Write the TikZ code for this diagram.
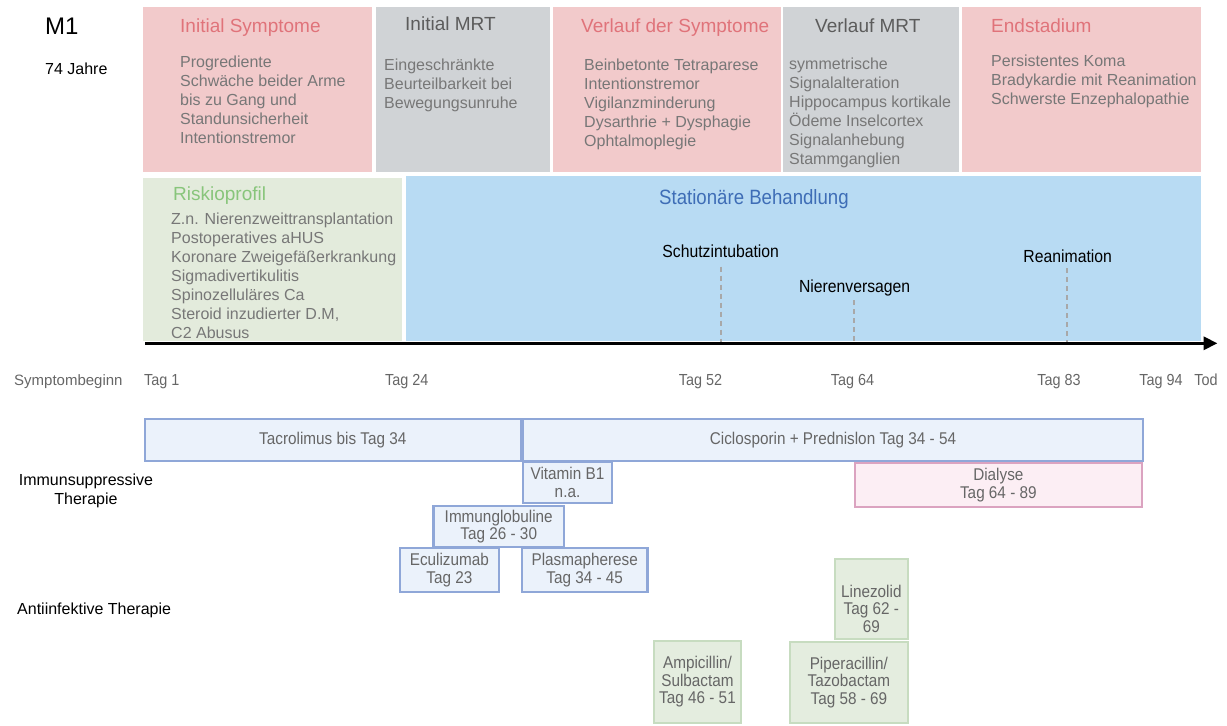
\documentclass[tikz,border=0pt]{standalone}
\usepackage{fontspec}
\setmainfont{Liberation Sans}
\newfontfamily\condfont{Liberation Sans}[FakeStretch=0.9]
\usetikzlibrary{arrows.meta}

\definecolor{pinkfill}{HTML}{F2CACB}
\definecolor{pinktitle}{HTML}{E0737A}
\definecolor{greyfill}{HTML}{D0D3D6}
\definecolor{greytitle}{HTML}{5C5C5C}
\definecolor{bodygrey}{HTML}{777777}
\definecolor{greenfill}{HTML}{E3EBDC}
\definecolor{greentitle}{HTML}{88C57B}
\definecolor{bluefill}{HTML}{B8DBF3}
\definecolor{bluetitle}{HTML}{3E6DB6}
\definecolor{medfill}{HTML}{EBF2FB}
\definecolor{meddraw}{HTML}{8FA7D8}
\definecolor{dialfill}{HTML}{FCEEF4}
\definecolor{dialdraw}{HTML}{DBA3C0}
\definecolor{abxfill}{HTML}{E4EDDF}
\definecolor{abxdraw}{HTML}{C7DCC0}
\definecolor{labelgrey}{HTML}{666666}
\definecolor{dashgrey}{HTML}{A8A8A8}

\begin{document}
\begin{tikzpicture}[x=1pt,y=-1pt,
  panel/.style={rectangle, anchor=north west, inner sep=0pt, outer sep=0pt, draw=none},
  ttl/.style={anchor=north west, inner sep=0pt, font=\fontsize{19}{23}\selectfont},
  bdy/.style={anchor=north west, inner sep=0pt, align=left, text=bodygrey,
    font=\fontsize{16}{19}\selectfont},
  medbox/.style={rectangle, anchor=north west, inner sep=0pt, outer sep=0pt,
    draw=meddraw, fill=medfill, line width=2.2pt, align=center, text=labelgrey,
    font=\condfont\fontsize{17}{17.5}\selectfont},
  dialbox/.style={medbox, draw=dialdraw, fill=dialfill},
  abxbox/.style={medbox, draw=abxdraw, fill=abxfill, line width=2pt},
  boxtext/.style={inner sep=0pt, align=center, text=labelgrey,
    font=\condfont\fontsize{17}{17.5}\selectfont},
  evlab/.style={anchor=base, inner sep=0pt, text=black,
    font=\condfont\fontsize{17.5}{20}\selectfont},
  taglab/.style={anchor=base, inner sep=0pt, text=labelgrey,
    font=\condfont\fontsize{16}{19}\selectfont},
  evdash/.style={draw=dashgrey, line width=2pt, dash pattern=on 5pt off 4pt},
  axisline/.style={line width=3.3pt, -{Triangle[length=14pt,width=13pt]}},
]
\useasboundingbox (0,0) rectangle (1227,726);

% header
\node[anchor=base west, inner sep=0pt, font=\fontsize{24}{28}\selectfont] (case) at (45,34.3) {M1};
\node[anchor=base west, inner sep=0pt, font=\fontsize{16}{19}\selectfont] (age) at (45,74) {74 Jahre};

% course panels
\node[panel, fill=pinkfill, minimum width=228.4pt, minimum height=165.6pt] (isym) at (143.3,6.7) {};
\node[panel, fill=greyfill, minimum width=174.7pt, minimum height=165.6pt] (imrt) at (375.5,6.7) {};
\node[panel, fill=pinkfill, minimum width=227.4pt, minimum height=165.6pt] (vsym) at (553.3,6.7) {};
\node[panel, fill=greyfill, minimum width=176pt, minimum height=165.6pt] (vmrt) at (783.3,6.7) {};
\node[panel, fill=pinkfill, minimum width=238.7pt, minimum height=165.6pt] (ends) at (962,6.7) {};
\node[panel, fill=greenfill, minimum width=259pt, minimum height=162.4pt] (risk) at (143.3,178.3) {};
\node[panel, fill=bluefill, minimum width=794.6pt, minimum height=164.7pt] (stat) at (406,176) {};

\node[ttl, text=pinktitle] (isymT) at (180,18.3) {Initial Symptome};
\node[bdy] (isymB) at (180,55.7) {Progrediente\\Schwäche beider Arme\\bis zu Gang und\\Standunsicherheit\\Intentionstremor};
\node[ttl, text=greytitle] (imrtT) at (405,16.7) {Initial MRT};
\node[bdy] (imrtB) at (384,58.7) {Eingeschränkte\\Beurteilbarkeit bei\\Bewegungsunruhe};
\node[ttl, text=pinktitle] (vsymT) at (581,18.3) {Verlauf der Symptome};
\node[bdy] (vsymB) at (584,58.7) {Beinbetonte Tetraparese\\Intentionstremor\\Vigilanzminderung\\Dysarthrie + Dysphagie\\Ophtalmoplegie};
\node[ttl, text=greytitle] (vmrtT) at (815,18.3) {Verlauf MRT};
\node[bdy] (vmrtB) at (789,57.3) {symmetrische\\Signalalteration\\Hippocampus kortikale\\Ödeme Inselcortex\\Signalanhebung\\Stammganglien};
\node[ttl, text=pinktitle] (endsT) at (991,18.3) {Endstadium};
\node[bdy] (endsB) at (991,54.3) {Persistentes Koma\\Bradykardie mit Reanimation\\Schwerste Enzephalopathie};
\node[ttl, text=greentitle] (riskT) at (173,186.7) {Riskioprofil};
\node[bdy] (riskB) at (171,212.7) {Z.n. Nierenzweittransplantation\\Postoperatives aHUS\\Koronare Zweigefäßerkrankung\\Sigmadivertikulitis\\Spinozelluläres Ca\\Steroid inzudierter D.M,\\C2 Abusus};
\node[ttl, text=bluetitle, font=\condfont\fontsize{20.7}{23}\selectfont] (statT) at (659,189) {Stationäre Behandlung};

% events during the stay
\node[evlab] (schutz) at (720.7,257.3) {Schutzintubation};
\node[evlab] (niere) at (854.6,292.7) {Nierenversagen};
\node[evlab] (reani) at (1067.7,262) {Reanimation};

\coordinate (d52) at (721,266.7);
\coordinate (d64) at (853.6,300);
\coordinate (d83) at (1066.7,268.3);
\coordinate (ax52) at (721,343.3);
\coordinate (ax64) at (853.6,343.3);
\coordinate (ax83) at (1066.7,343.3);
\draw[evdash] (d52) -- (ax52);
\draw[evdash] (d64) -- (ax64);
\draw[evdash] (d83) -- (ax83);

% time axis
\coordinate (axs) at (145,343.3);
\coordinate (axe) at (1217.5,343.3);
\draw[axisline] (axs) -- (axe);

\node[anchor=base west, inner sep=0pt, text=labelgrey, font=\fontsize{15}{18}\selectfont] (start) at (14,385) {Symptombeginn};
\node[taglab, anchor=base west] (tag1) at (144,385) {Tag 1};
\node[taglab, anchor=base west] (tag24) at (385,385) {Tag 24};
\node[taglab] (tag52) at (700.6,385) {Tag 52};
\node[taglab] (tag64) at (852.5,385) {Tag 64};
\node[taglab] (tag83) at (1059,385) {Tag 83};
\node[taglab] (tag94) at (1161,385) {Tag 94};
\node[taglab] (tod) at (1206,385) {Tod};

% therapy rows
\node[anchor=north, inner sep=0pt, align=center, font=\fontsize{16}{18.5}\selectfont] (immlab) at (86,474) {Immunsuppressive\\Therapie};
\node[anchor=base west, inner sep=0pt, font=\fontsize{16}{19}\selectfont] (abxlab) at (17,614) {Antiinfektive Therapie};

\node[medbox, minimum width=375.6pt, minimum height=42pt] (tacro) at (145,419) {Tacrolimus bis Tag 34};
\node[medbox, minimum width=620pt, minimum height=42pt] (ciclo) at (523,419) {Ciclosporin + Prednislon Tag 34 - 54};
\node[medbox, minimum width=89pt, minimum height=41pt] (vitb) at (523,461.7) {Vitamin B1\\n.a.};
\node[dialbox, minimum width=287.3pt, minimum height=44pt] (dial) at (854.7,463.3) {Dialyse\\Tag 64 - 89};
\node[medbox, minimum width=130.5pt, minimum height=40.7pt] (immg) at (433.5,506) {Immunglobuline\\Tag 26 - 30};
\node[medbox, minimum width=98.7pt, minimum height=43.7pt] (ecul) at (400,548) {Eculizumab\\Tag 23};
\node[medbox, minimum width=125.4pt, minimum height=43.7pt] (plas) at (522,548) {Plasmapherese\\Tag 34 - 45};

\node[abxbox, minimum width=73.3pt, minimum height=80.3pt] (linez) at (834.7,559) {};
\node[boxtext] (linezT) at ([yshift=-9.5pt]linez.center) {Linezolid\\Tag 62 -\\69};
\node[abxbox, minimum width=87pt, minimum height=82.6pt] (ampi) at (654,640.7) {Ampicillin/\\Sulbactam\\Tag 46 - 51};
\node[abxbox, minimum width=118.2pt, minimum height=81.6pt] (pipe) at (789.8,641.7) {Piperacillin/\\Tazobactam\\Tag 58 - 69};
\end{tikzpicture}
\end{document}
